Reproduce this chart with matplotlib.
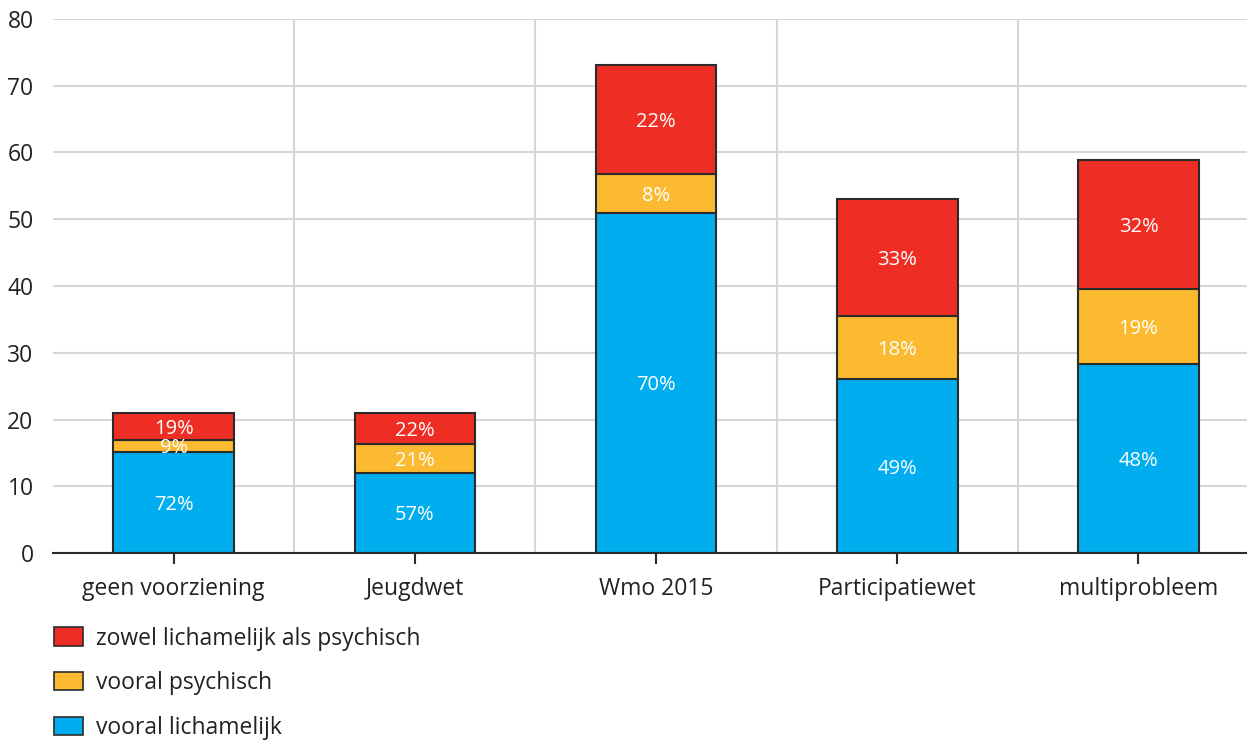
import matplotlib.pyplot as plt
from matplotlib.patches import Patch

plt.rcParams['font.family'] = ['Open Sans', 'DejaVu Sans']

categories = ['geen voorziening', 'Jeugdwet', 'Wmo 2015', 'Participatiewet', 'multiprobleem']
lichamelijk = [15.1, 12.0, 51.0, 26.0, 28.3]
psychisch = [1.9, 4.4, 5.8, 9.5, 11.3]
beide = [4.0, 4.6, 16.3, 17.5, 19.3]
pct_lichamelijk = ['72%', '57%', '70%', '49%', '48%']
pct_psychisch = ['9%', '21%', '8%', '18%', '19%']
pct_beide = ['19%', '22%', '22%', '33%', '32%']
series_labels = ['vooral lichamelijk', 'vooral psychisch', 'zowel lichamelijk als psychisch']
colors = ['#00AEEF', '#FBBA2F', '#EE2E24']

fig = plt.figure(figsize=(12.47, 7.42), dpi=100)
ax = fig.add_axes([0.0425, 0.2547, 0.9575, 0.7197])

x = list(range(len(categories)))
bottom = [0] * len(categories)
for vals, pcts, col in zip([lichamelijk, psychisch, beide],
                           [pct_lichamelijk, pct_psychisch, pct_beide], colors):
    bars = ax.bar(x, vals, width=0.5, bottom=bottom, color=col,
                  edgecolor='#2b2b2b', linewidth=1.5, zorder=3)
    for b, p in zip(bars, pcts):
        ax.text(b.get_x() + b.get_width() / 2, b.get_y() + b.get_height() / 2, p,
                ha='center', va='center_baseline', color='white', fontsize=14.5, zorder=4)
    bottom = [bt + v for bt, v in zip(bottom, vals)]

ax.set_xlim(-0.5, 4.45)
ax.set_ylim(0, 80)
ax.set_yticks(range(0, 81, 10))
ax.set_xticks(x)
ax.set_xticklabels(categories)
ax.set_xticks([0.5, 1.5, 2.5, 3.5], minor=True)

ax.grid(axis='y', color='#d6d6d6', linewidth=1.5, zorder=0)
ax.grid(axis='x', which='minor', color='#d6d6d6', linewidth=1.5, zorder=0)
ax.tick_params(axis='x', which='minor', length=0)
ax.tick_params(axis='x', which='major', length=8, width=1.5, color='#2b2b2b',
               labelsize=16.5, pad=9, labelcolor='#222222')
ax.tick_params(axis='y', length=0, labelsize=16.5, pad=14, labelcolor='#222222')

for s in ['top', 'right', 'left']:
    ax.spines[s].set_visible(False)
ax.spines['bottom'].set_color('#2b2b2b')
ax.spines['bottom'].set_linewidth(1.5)
ax.spines['bottom'].set_zorder(5)

handles = [Patch(facecolor=c, edgecolor='#2b2b2b', linewidth=1.2, label=l)
           for c, l in zip(colors, series_labels)][::-1]
fig.legend(handles=handles, loc='upper left', bbox_to_anchor=(0.036, 0.168),
           frameon=False, fontsize=16.5, labelspacing=0.9, handlelength=1.25,
           handleheight=0.85, handletextpad=0.6, borderaxespad=0, labelcolor='#222222')

fig.savefig('out.png', dpi=100)
